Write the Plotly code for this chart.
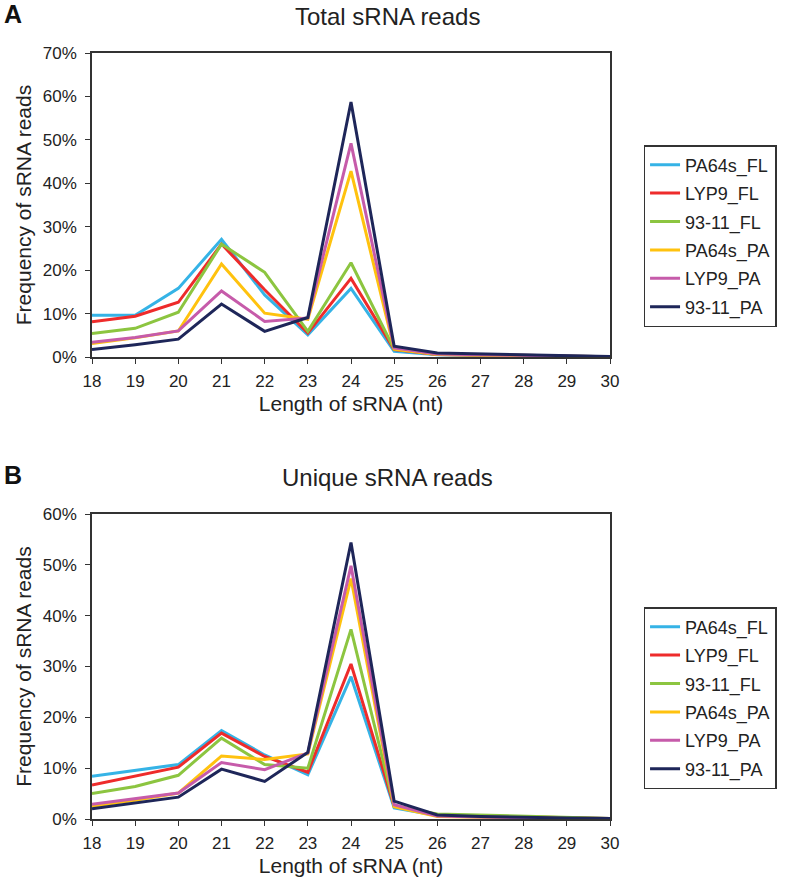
import plotly.graph_objects as go

lengths = list(range(18, 31))
series_names = ["PA64s_FL", "LYP9_FL", "93-11_FL", "PA64s_PA", "LYP9_PA", "93-11_PA"]
colors = ["#35B3E6", "#EE2B2B", "#8CC540", "#FFC20E", "#C65BAA", "#1E2659"]

# Panel A: Total sRNA reads (fractions)
total_pa64s_fl = [0.096, 0.096, 0.158, 0.271, 0.143, 0.051, 0.158, 0.013, 0.005, 0.003, 0.002, 0.001, 0.0005]
total_lyp9_fl = [0.081, 0.094, 0.126, 0.260, 0.155, 0.055, 0.181, 0.017, 0.006, 0.004, 0.002, 0.001, 0.0005]
total_9311_fl = [0.054, 0.066, 0.103, 0.260, 0.195, 0.059, 0.217, 0.018, 0.007, 0.005, 0.003, 0.001, 0.0005]
total_pa64s_pa = [0.031, 0.044, 0.060, 0.214, 0.101, 0.087, 0.428, 0.018, 0.006, 0.004, 0.002, 0.001, 0.0005]
total_lyp9_pa = [0.034, 0.045, 0.060, 0.152, 0.082, 0.090, 0.492, 0.021, 0.007, 0.005, 0.003, 0.001, 0.0005]
total_9311_pa = [0.017, 0.028, 0.041, 0.122, 0.059, 0.091, 0.587, 0.025, 0.009, 0.007, 0.004, 0.002, 0.001]

# Panel B: Unique sRNA reads (fractions)
uniq_pa64s_fl = [0.084, 0.096, 0.107, 0.174, 0.126, 0.087, 0.280, 0.022, 0.007, 0.005, 0.003, 0.002, 0.001]
uniq_lyp9_fl = [0.067, 0.085, 0.102, 0.169, 0.123, 0.092, 0.305, 0.025, 0.008, 0.006, 0.004, 0.002, 0.001]
uniq_9311_fl = [0.050, 0.064, 0.086, 0.159, 0.107, 0.100, 0.373, 0.025, 0.010, 0.008, 0.006, 0.003, 0.001]
uniq_pa64s_pa = [0.025, 0.037, 0.051, 0.124, 0.117, 0.128, 0.473, 0.024, 0.005, 0.003, 0.002, 0.001, 0.0005]
uniq_lyp9_pa = [0.029, 0.040, 0.051, 0.111, 0.097, 0.130, 0.498, 0.028, 0.006, 0.004, 0.002, 0.001, 0.0005]
uniq_9311_pa = [0.020, 0.031, 0.043, 0.098, 0.074, 0.131, 0.544, 0.035, 0.008, 0.005, 0.003, 0.002, 0.001]

total_series = [total_pa64s_fl, total_lyp9_fl, total_9311_fl, total_pa64s_pa, total_lyp9_pa, total_9311_pa]
uniq_series = [uniq_pa64s_fl, uniq_lyp9_fl, uniq_9311_fl, uniq_pa64s_pa, uniq_lyp9_pa, uniq_9311_pa]

FONT = "Arial, Liberation Sans, sans-serif"
W, H = 789, 883
# plot area in page coordinates
PX0, PX1 = 92, 617
PYA0, PYA1 = 53, 357
PYB0, PYB1 = 514, 819
ML = PX0
MR = W - PX1
MT = PYA0
MB = H - PYB1
plot_h = H - MT - MB
plot_w = W - ML - MR

def py(y_page):
    return (H - MB - y_page) / plot_h

def px(x_page):
    return (x_page - ML) / plot_w

fig = go.Figure()
for i, name in enumerate(series_names):
    fig.add_trace(go.Scatter(x=lengths, y=total_series[i], mode="lines", name=name,
                             line=dict(color=colors[i], width=3), xaxis="x", yaxis="y",
                             legend="legend", legendgroup="a" + str(i)))
for i, name in enumerate(series_names):
    fig.add_trace(go.Scatter(x=lengths, y=uniq_series[i], mode="lines", name=name,
                             line=dict(color=colors[i], width=3), xaxis="x2", yaxis="y2",
                             legend="legend2", legendgroup="b" + str(i)))

axis_common = dict(showline=True, linecolor="#333", linewidth=1.5, mirror=True,
                   ticks="outside", ticklen=5, tickcolor="#333", showgrid=False, zeroline=False,
                   automargin=False,
                   tickfont=dict(family=FONT, size=17, color="#222"))
title_font = dict(family=FONT, size=21, color="#222")

dom_a = [py(PYA1), py(PYA0)]
dom_b = [py(PYB1), py(PYB0)]

legend_common = dict(xanchor="left", yanchor="top", xref="paper", yref="paper",
                     bordercolor="#333", borderwidth=1.5, font=dict(family=FONT, size=18, color="#222"),
                     tracegroupgap=2, itemwidth=30)

fig.update_layout(
    width=W, height=H, plot_bgcolor="white", paper_bgcolor="white",
    margin=dict(l=ML, r=MR, t=MT, b=MB),
    font=dict(family=FONT, color="#222"),
    xaxis=dict(domain=[0, 1], anchor="y", range=[18, 30], tickmode="linear", dtick=1,
               ticklabelstandoff=3,
               title=dict(text="Length of sRNA (nt)", font=title_font, standoff=6),
               **axis_common),
    yaxis=dict(domain=dom_a, anchor="x", range=[0, 0.7], dtick=0.1, tickformat=".0%",
               ticklabelstandoff=5,
               title=dict(text="Frequency of sRNA reads", font=title_font, standoff=5),
               **axis_common),
    xaxis2=dict(domain=[0, 1], anchor="y2", range=[18, 30], tickmode="linear", dtick=1,
                ticklabelstandoff=3,
                title=dict(text="Length of sRNA (nt)", font=title_font, standoff=6),
                **axis_common),
    yaxis2=dict(domain=dom_b, anchor="x2", range=[0, 0.6], dtick=0.1, tickformat=".0%",
                ticklabelstandoff=5,
                title=dict(text="Frequency of sRNA reads", font=title_font, standoff=5),
                **axis_common),
    legend=dict(x=px(651), y=py(145), **legend_common),
    legend2=dict(x=px(651), y=py(607), **legend_common),
    showlegend=True,
)

fig.add_annotation(text="Total sRNA reads", x=px(391), y=py(17), xref="paper", yref="paper",
                   showarrow=False, font=dict(family=FONT, size=24, color="#222"), xanchor="center", yanchor="middle")
fig.add_annotation(text="Unique sRNA reads", x=px(391), y=py(478), xref="paper", yref="paper",
                   showarrow=False, font=dict(family=FONT, size=24, color="#222"), xanchor="center", yanchor="middle")
fig.add_annotation(text="<b>A</b>", x=px(1), y=py(14), xref="paper", yref="paper",
                   showarrow=False, font=dict(family=FONT, size=25, color="#111"), xanchor="left", yanchor="middle")
fig.add_annotation(text="<b>B</b>", x=px(1), y=py(475), xref="paper", yref="paper",
                   showarrow=False, font=dict(family=FONT, size=25, color="#111"), xanchor="left", yanchor="middle")

fig.write_html("out.html", config={"displayModeBar": False},
               post_script="document.body.style.margin='0px';")
